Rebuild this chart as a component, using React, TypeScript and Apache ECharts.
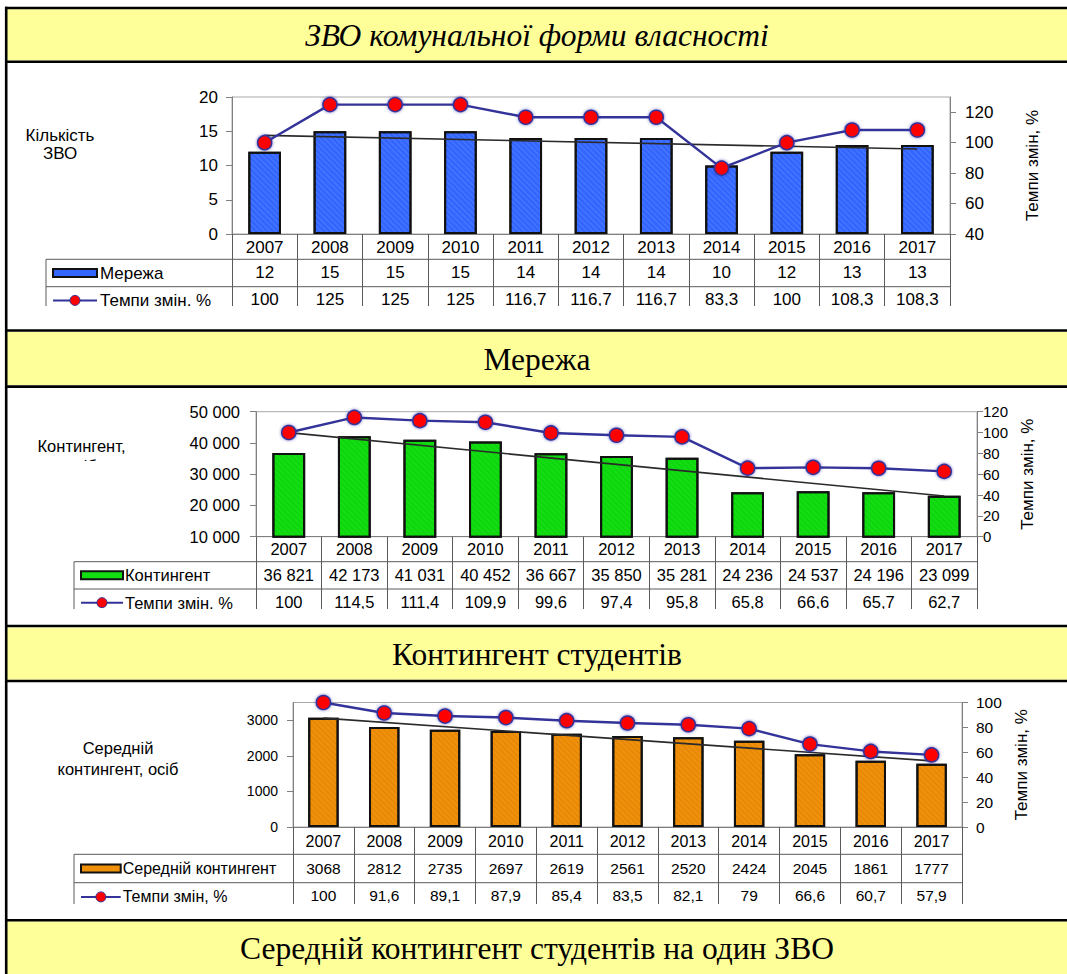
import React, { useEffect, useRef } from "react";
import * as echarts from "echarts";

// ---------- data ----------
const years = ["2007", "2008", "2009", "2010", "2011", "2012", "2013", "2014", "2015", "2016", "2017"];

const network = [12, 15, 15, 15, 14, 14, 14, 10, 12, 13, 13];
const networkRate = [100, 125, 125, 125, 116.7, 116.7, 116.7, 83.3, 100, 108.3, 108.3];
const networkTrend = [14.4, 12.4]; // trend line ends (2007, 2017)

const contingent = [36821, 42173, 41031, 40452, 36667, 35850, 35281, 24236, 24537, 24196, 23099];
const contingentRate = [100, 114.5, 111.4, 109.9, 99.6, 97.4, 95.8, 65.8, 66.6, 65.7, 62.7];
const contingentTrend = [43300, 23000];

const avgContingent = [3068, 2812, 2735, 2697, 2619, 2561, 2520, 2424, 2045, 1861, 1777];
const avgRate = [100, 91.6, 89.1, 87.9, 85.4, 83.5, 82.1, 79, 66.6, 60.7, 57.9];
const avgTrend = [3060, 1860];

const titles = [
  "ЗВО комунальної форми власності",
  "Мережа",
  "Контингент студентів",
  "Середній контингент студентів на один ЗВО",
];
const rateLabel = "Темпи змін, %";

const SANS = "'Liberation Sans', Arial, sans-serif";
const SERIF = "'Liberation Serif', 'Times New Roman', serif";

const fmtSpace = (v: number) => String(v).replace(/\B(?=(\d{3})+(?!\d))/g, " ");
const fmtPlain = (v: number) => String(v);
const fmtComma = (v: number) => String(v).replace(".", ",");

type Panel = {
  bars: number[];
  rates: number[];
  trend: number[];
  fmt: (v: number) => string;
  leftFmt: (v: number) => string;
  color: string;
  decalColor: string;
  legend: string;
  left: number;
  right: number;
  top: number;
  bottom: number;
  tableLeft: number;
  rowY1: number;
  rowY2: number;
  clipY: number;
  clipEnd: number;
  iconX1: number;
  iconX2: number;
  textX: number;
  yL: { min: number; max: number; interval: number; margin: number; fs: number; hideMax: boolean };
  yR: { min: number; max: number; interval: number; margin: number; fs: number; hideMax: boolean; gap: number };
  fsYear: number;
  fsTable: number;
  fsLegend: number;
  yearMargin: number;
  r1Margin: number;
  r2Margin: number;
  label: { text: string; x: number; y: number; lh: number; fs: number };
};

const panels: Panel[] = [
  {
    bars: network, rates: networkRate, trend: networkTrend, fmt: fmtPlain, leftFmt: fmtPlain,
    color: "#3366ff", decalColor: "rgba(170,190,255,0.22)", legend: "Мережа",
    left: 232, right: 950, top: 97, bottom: 234,
    tableLeft: 46, rowY1: 259.3, rowY2: 286.7, clipY: 306, clipEnd: 329,
    iconX1: 53, iconX2: 97, textX: 100,
    yL: { min: 0, max: 20, interval: 5, margin: 14, fs: 17, hideMax: false },
    yR: { min: 40, max: 130, interval: 20, margin: 15, fs: 17, hideMax: true, gap: 74 },
    fsYear: 17, fsTable: 17, fsLegend: 17, yearMargin: 5, r1Margin: 5, r2Margin: 4,
    label: { text: "Кількість\nЗВО", x: 60, y: 144, lh: 18, fs: 17 },
  },
  {
    bars: contingent, rates: contingentRate, trend: contingentTrend, fmt: fmtSpace, leftFmt: fmtSpace,
    color: "#11dd11", decalColor: "rgba(0,120,0,0.15)", legend: "Контингент",
    left: 256, right: 977, top: 411.7, bottom: 536.7,
    tableLeft: 74, rowY1: 561.7, rowY2: 589, clipY: 609, clipEnd: 624,
    iconX1: 81, iconX2: 123, textX: 125,
    yL: { min: 10000, max: 50000, interval: 10000, margin: 16, fs: 16.5, hideMax: false },
    yR: { min: 0, max: 120, interval: 20, margin: 6, fs: 15, hideMax: false, gap: 40 },
    fsYear: 16.5, fsTable: 16.5, fsLegend: 16.5, yearMargin: 4, r1Margin: 5, r2Margin: 4,
    label: { text: "Контингент,\nосіб", x: 81.5, y: 456, lh: 20, fs: 16.5 },
  },
  {
    bars: avgContingent, rates: avgRate, trend: avgTrend, fmt: fmtPlain, leftFmt: fmtPlain,
    color: "#f0900a", decalColor: "rgba(150,80,0,0.18)", legend: "Середній контингент",
    left: 293, right: 962, top: 702.5, bottom: 827,
    tableLeft: 74, rowY1: 854.3, rowY2: 882.7, clipY: 904, clipEnd: 919,
    iconX1: 81, iconX2: 120.7, textX: 122.7,
    yL: { min: 0, max: 3500, interval: 1000, margin: 15, fs: 14, hideMax: true },
    yR: { min: 0, max: 100, interval: 20, margin: 14, fs: 15.5, hideMax: false, gap: 34 },
    fsYear: 16, fsTable: 15.5, fsLegend: 16, yearMargin: 6, r1Margin: 6, r2Margin: 5,
    label: { text: "Середній\nконтингент, осіб", x: 118, y: 758.8, lh: 21, fs: 16.5 },
  },
];

const LINE_COLOR = "#333399";
const TABLE_COLOR = "#5a5a5a";
const AXIS_COLOR = "#808080";

function buildOption() {
  const grid: any[] = [];
  const xAxis: any[] = [];
  const yAxis: any[] = [];
  const series: any[] = [];
  const graphic: any[] = [];

  panels.forEach((p, i) => {
    grid.push({
      left: p.left, top: p.top, width: p.right - p.left, height: p.bottom - p.top,
      show: true, borderColor: "#a8a8a8", borderWidth: 1, backgroundColor: "transparent",
      containLabel: false, outerBoundsMode: "none",
    });
    const baseLabel = { fontFamily: SANS, color: "#000", interval: 0 };
    xAxis.push({
      type: "category", gridIndex: i, data: years, boundaryGap: true, position: "bottom",
      axisLine: { show: true, lineStyle: { color: AXIS_COLOR, width: 1 } },
      axisTick: { show: true, interval: 0, alignWithLabel: false, length: p.clipY - p.bottom + 4, lineStyle: { color: TABLE_COLOR, width: 1 } },
      axisLabel: { ...baseLabel, fontSize: p.fsYear, margin: p.yearMargin },
      splitLine: { show: false },
    });
    xAxis.push({
      type: "category", gridIndex: i, data: years, position: "bottom", offset: p.rowY1 - p.bottom,
      axisLine: { show: false }, axisTick: { show: false }, splitLine: { show: false },
      axisLabel: { ...baseLabel, fontSize: p.fsTable, margin: p.r1Margin, formatter: (_v: string, idx: number) => p.fmt(p.bars[idx]) },
    });
    xAxis.push({
      type: "category", gridIndex: i, data: years, position: "bottom", offset: p.rowY2 - p.bottom,
      axisLine: { show: false }, axisTick: { show: false }, splitLine: { show: false },
      axisLabel: { ...baseLabel, fontSize: p.fsTable, margin: p.r2Margin, formatter: (_v: string, idx: number) => fmtComma(p.rates[idx]) },
    });
    yAxis.push({
      type: "value", gridIndex: i, position: "left", min: p.yL.min, max: p.yL.max, interval: p.yL.interval,
      axisLine: { show: true, lineStyle: { color: AXIS_COLOR } },
      axisTick: { show: true, length: 6, lineStyle: { color: AXIS_COLOR } },
      axisLabel: { fontFamily: SANS, color: "#000", fontSize: p.yL.fs, margin: p.yL.margin, showMaxLabel: !p.yL.hideMax, formatter: (v: number) => p.leftFmt(v) },
      splitLine: { show: false },
    });
    yAxis.push({
      type: "value", gridIndex: i, position: "right", min: p.yR.min, max: p.yR.max, interval: p.yR.interval,
      name: rateLabel, nameLocation: "middle", nameGap: p.yR.gap, nameRotate: 90,
      nameTextStyle: { fontFamily: SANS, color: "#000", fontSize: 17 },
      axisLine: { show: true, lineStyle: { color: AXIS_COLOR } },
      axisTick: { show: true, length: 6, lineStyle: { color: AXIS_COLOR } },
      axisLabel: { fontFamily: SANS, color: "#000", fontSize: p.yR.fs, margin: p.yR.margin, showMaxLabel: !p.yR.hideMax },
      splitLine: { show: false },
    });

    const n = years.length;
    series.push({
      type: "bar", xAxisIndex: i * 3, yAxisIndex: i * 2, data: p.bars, barWidth: "50%", z: 2,
      itemStyle: {
        color: p.color, borderColor: "#111", borderWidth: 2,
        decal: { symbol: "rect", symbolSize: 1, dashArrayX: [1, 0], dashArrayY: [1, 3], rotation: Math.PI / 4, color: p.decalColor },
      },
    });
    series.push({
      type: "line", xAxisIndex: i * 3, yAxisIndex: i * 2, z: 3,
      data: years.map((_, k) => (k === 0 ? p.trend[0] : k === n - 1 ? p.trend[1] : "-")),
      connectNulls: true, symbol: "none", lineStyle: { color: "#2a2a2a", width: 1.6 },
    });
    series.push({
      type: "line", xAxisIndex: i * 3, yAxisIndex: i * 2 + 1, data: p.rates, z: 4,
      symbol: "circle", symbolSize: 14, showAllSymbol: true,
      lineStyle: { color: LINE_COLOR, width: 2.4 },
      itemStyle: { color: "#ff0000", borderColor: LINE_COLOR, borderWidth: 1.5, shadowColor: "rgba(40,40,170,0.7)", shadowBlur: 3 },
    });

    // table frame pieces outside the grid
    const ln = (x1: number, y1: number, x2: number, y2: number) => ({
      type: "line", z: 10, shape: { x1, y1, x2, y2 }, style: { stroke: TABLE_COLOR, lineWidth: 1 },
    });
    graphic.push(ln(p.tableLeft, p.rowY1, p.right, p.rowY1));
    graphic.push(ln(p.tableLeft, p.rowY2, p.right, p.rowY2));
    graphic.push(ln(p.tableLeft, p.rowY1, p.tableLeft, p.clipY + 3));
    // legend column
    const r1c = (p.rowY1 + p.rowY2) / 2;
    const r2c = p.rowY2 + (p.rowY2 - p.rowY1) / 2;
    graphic.push({
      type: "rect", z: 10, shape: { x: p.iconX1, y: r1c - 4, width: p.iconX2 - p.iconX1, height: 8 },
      style: { fill: p.color, stroke: "#111", lineWidth: 2 },
    });
    graphic.push({
      type: "text", z: 10, x: p.textX, y: r1c,
      style: { text: p.legend, fontSize: p.fsLegend, fontFamily: SANS, fill: "#000", align: "left", verticalAlign: "middle", textAlign: "left", textVerticalAlign: "middle" },
    });
    graphic.push({
      type: "line", z: 10, shape: { x1: p.iconX1, y1: r2c, x2: p.iconX2, y2: r2c }, style: { stroke: LINE_COLOR, lineWidth: 2 },
    });
    graphic.push({
      type: "circle", z: 11, shape: { cx: (p.iconX1 + p.iconX2) / 2, cy: r2c, r: 5 },
      style: { fill: "#ff0000", stroke: LINE_COLOR, lineWidth: 1 },
    });
    graphic.push({
      type: "text", z: 10, x: p.textX, y: r2c,
      style: { text: rateLabel, fontSize: p.fsLegend, fontFamily: SANS, fill: "#000", align: "left", verticalAlign: "middle", textAlign: "left", textVerticalAlign: "middle" },
    });
    // left axis caption
    graphic.push({
      type: "text", z: 10, x: p.label.x, y: p.label.y,
      style: { text: p.label.text, fontSize: p.label.fs, fontFamily: SANS, fill: "#000", lineHeight: p.label.lh, align: "center", verticalAlign: "middle", textAlign: "center", textVerticalAlign: "middle" },
    });
    // the table is cut off at the bottom
    graphic.push({
      type: "rect", z: 50, shape: { x: 10, y: p.clipY, width: 1050, height: p.clipEnd - p.clipY },
      style: { fill: "#ffffff" },
    });
  });
  // second caption line of the middle panel is cut off
  graphic.push({ type: "rect", z: 50, shape: { x: 20, y: 461, width: 130, height: 20 }, style: { fill: "#ffffff" } });

  // yellow bands and black rules
  const bands = [
    [9.3, 60.5],
    [331.8, 385.2],
    [627.4, 679.8],
    [921.5, 974],
  ];
  bands.forEach(([y0, y1], k) => {
    graphic.push({ type: "rect", z: 55, shape: { x: 7, y: y0, width: 1060, height: y1 - y0 }, style: { fill: "#ffff99" } });
    graphic.push({
      type: "text", z: 56, x: 537, y: (y0 + y1) / 2 + 1,
      style: {
        text: titles[k], fontSize: 31.5, fontFamily: SERIF, fontStyle: k === 0 ? "italic" : "normal", fill: "#000",
        align: "center", verticalAlign: "middle", textAlign: "center", textVerticalAlign: "middle",
      },
    });
  });
  [8, 61.8, 330.5, 386.6, 626, 681, 920.2].forEach((y) => {
    graphic.push({ type: "line", z: 60, shape: { x1: 5, y1: y, x2: 1067, y2: y }, style: { stroke: "#000", lineWidth: 2.6 } });
  });
  graphic.push({ type: "line", z: 60, shape: { x1: 6.2, y1: 6.7, x2: 6.2, y2: 974 }, style: { stroke: "#000", lineWidth: 2.6 } });

  return {
    animation: false,
    backgroundColor: "#ffffff",
    grid, xAxis, yAxis, series, graphic,
  };
}

export default function App() {
  const ref = useRef<HTMLDivElement>(null);
  useEffect(() => {
    if (!ref.current) return;
    const chart = echarts.init(ref.current, undefined, { renderer: "svg" });
    chart.setOption(buildOption() as any);
    return () => chart.dispose();
  }, []);
  return <div ref={ref} style={{ position: "absolute", left: 0, top: 0, width: 1067, height: 974 }} />;
}
